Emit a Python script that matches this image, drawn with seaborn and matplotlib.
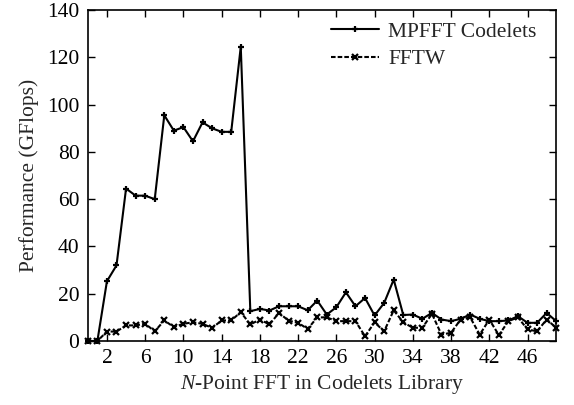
import numpy as np
import pandas as pd
import matplotlib
matplotlib.use("Agg")
import matplotlib.pyplot as plt
import seaborn as sns

n_points = list(range(0, 50))
mpfft = [0, 0, 25.3, 32.0, 64.5, 61.5, 61.5, 60.0, 95.5, 89.0,
         90.5, 84.5, 92.5, 90.0, 88.5, 88.5, 124.5, 12.6, 13.6, 12.9,
         14.7, 14.7, 14.7, 13.0, 17.1, 11.2, 14.3, 20.6, 14.7, 18.2,
         10.8, 16.1, 26.0, 11.0, 11.2, 9.4, 11.9, 9.1, 8.4, 9.4,
         11.2, 9.4, 8.4, 8.4, 8.7, 10.5, 7.7, 7.7, 11.9, 8.4]
fftw = [0, 0, 4.0, 4.0, 6.6, 6.6, 7.3, 4.1, 8.7, 5.9,
        7.3, 7.9, 7.3, 5.5, 8.7, 8.7, 12.2, 7.0, 9.1, 7.0,
        11.9, 8.6, 7.7, 5.1, 10.0, 10.0, 8.4, 8.4, 8.4, 2.0,
        7.9, 4.1, 13.0, 7.9, 5.6, 5.6, 11.5, 2.7, 3.5, 9.1,
        10.0, 2.7, 9.1, 2.5, 8.4, 10.0, 4.9, 4.1, 9.1, 5.6]
series_names = ["MPFFT Codelets", "FFTW"]
x_ticks = [2, 6, 10, 14, 18, 22, 26, 30, 34, 38, 42, 46]
y_ticks = [0, 20, 40, 60, 80, 100, 120, 140]

df = pd.DataFrame({
    "N": n_points * 2,
    "GFlops": mpfft + fftw,
    "series": [series_names[0]] * len(mpfft) + [series_names[1]] * len(fftw),
})

sns.set_style("ticks")
plt.rcParams["font.family"] = ["Liberation Serif", "DejaVu Serif"]
plt.rcParams["mathtext.fontset"] = "custom"
plt.rcParams["mathtext.rm"] = "Liberation Serif"
plt.rcParams["mathtext.it"] = "Liberation Serif:italic"

fig = plt.figure(figsize=(5.74, 4.05), dpi=100)
ax = fig.add_axes([0.153, 0.158, 0.816, 0.817])

sns.lineplot(data=df, x="N", y="GFlops", hue="series", style="series",
             hue_order=series_names, style_order=series_names,
             palette={series_names[0]: "black", series_names[1]: "black"},
             markers={series_names[0]: "+", series_names[1]: "x"},
             dashes={series_names[0]: "", series_names[1]: (2.2, 1.0)},
             linewidth=1.5, markersize=5, markeredgewidth=1.6,
             markeredgecolor="black", clip_on=False,
             ax=ax)

ax.set_xlim(0, 49)
ax.set_ylim(0, 140)
ax.set_xticks(x_ticks)
ax.set_yticks(y_ticks)
ax.tick_params(direction="in", top=True, right=True, length=5, width=1,
               labelsize=15.5, colors="black", pad=6)
for s in ax.spines.values():
    s.set_linewidth(1.2)
    s.set_color("black")
    s.set_visible(True)

ax.set_xlabel(r"$\mathit{N}$-Point FFT in Codelets Library", fontsize=15.5, labelpad=3)
ax.set_ylabel("Performance (GFlops)", fontsize=15.5, labelpad=6)

handles, labels = ax.get_legend_handles_labels()
leg = ax.legend(handles=handles, labels=labels, loc="upper right",
                bbox_to_anchor=(0.977, 0.991), frameon=False,
                fontsize=15.5, handlelength=2.2, handletextpad=0.45,
                borderaxespad=0.0, labelspacing=0.34)
for h in leg.legend_handles:
    h.set_markersize(4)
    h.set_markeredgecolor("black")

fig.savefig("out.png", dpi=100)
